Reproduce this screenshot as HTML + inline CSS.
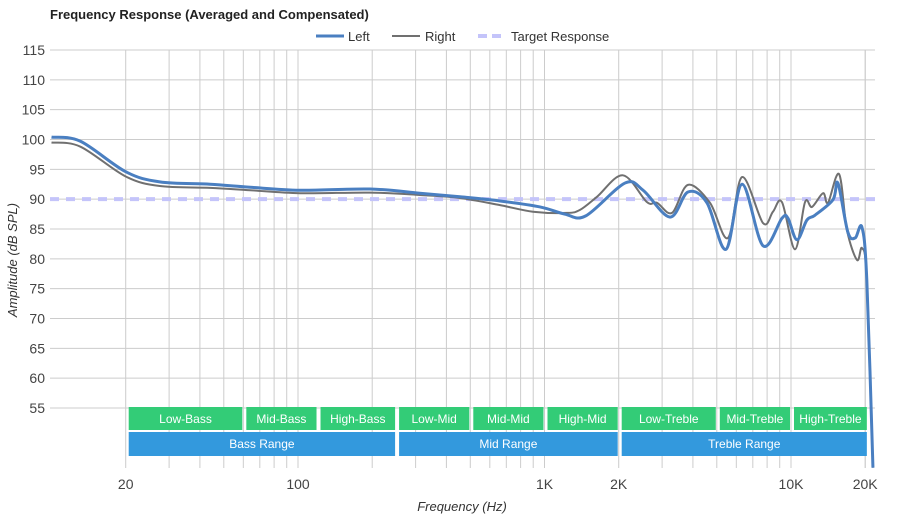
<!DOCTYPE html>
<html><head><meta charset="utf-8"><style>
body{margin:0;background:#fff;font-family:"Liberation Sans",sans-serif;}
svg text{font-family:"Liberation Sans",sans-serif;}
</style></head><body>
<svg id="chart" width="900" height="520" viewBox="0 0 900 520">
<defs><clipPath id="plotclip"><rect x="50" y="50" width="825" height="418"/></clipPath></defs>
<text x="50" y="19" font-size="13" font-weight="bold" fill="#222">Frequency Response (Averaged and Compensated)</text>
<g>
 <g><line x1="316" y1="36" x2="344" y2="36" stroke="#4a7fc1" stroke-width="3"/><text x="348" y="41" font-size="13" fill="#333">Left</text></g>
 <g><line x1="392" y1="36" x2="420" y2="36" stroke="#707070" stroke-width="2"/><text x="425" y="41" font-size="13" fill="#333">Right</text></g>
 <g><line x1="478" y1="36" x2="506" y2="36" stroke="#c4c4fa" stroke-width="4" stroke-dasharray="9,5"/><text x="511" y="41" font-size="13" fill="#333">Target Response</text></g>
</g>
<g id="grid"></g>
<g id="bands"></g>
<g id="series" clip-path="url(#plotclip)"></g>
<text transform="translate(17,260) rotate(-90)" text-anchor="middle" font-size="13" font-style="italic" fill="#333">Amplitude (dB SPL)</text>
<text x="462" y="511" text-anchor="middle" font-size="13" font-style="italic" fill="#333">Frequency (Hz)</text>
</svg>
<script>
const yTicks=[115,110,105,100,95,90,85,80,75,70,65,60,55];
const xTickVals=[20,100,1000,2000,10000,20000];
const xTickLabels=["20","100","1K","2K","10K","20K"];
const target=90;
const leftFreq=[10,13.1,20,27.5,44,64,102,196,312,454,660,959,1210,1470,2120,2510,3230,3820,4560,5450,6330,7700,9190,9720,10570,11600,12500,14800,15500,17000,18200,19400,20300,21500];
const leftDb=[100.4,99.7,94.6,92.9,92.5,92,91.5,91.7,91,90.4,89.7,88.7,87.5,87.2,92.7,91.5,87,91.2,89.4,81.6,92.5,82.2,86.8,86.8,83.2,86.5,87.3,89.9,92.7,84.5,83.5,85.3,76.5,45];
const rightFreq=[10,13.1,20,27.5,44,64,102,196,312,454,660,898,1234,1393,1633,2080,2605,2860,3290,3820,4690,5550,6330,7700,8450,9190,10380,11400,12170,13490,14130,15670,16870,18530,19400,20300,21500];
const rightDb=[99.5,98.8,93.8,92.2,91.9,91.5,91,91.1,90.7,90.2,89,87.9,87.7,88.2,90.4,94,89.5,89.4,87.7,92.4,89.4,83.5,93.7,86,87.9,89.5,81.6,89.5,88.7,91,89.4,94.2,84.8,79.8,81.8,76.5,45];
const bandNames=["Low-Bass","Mid-Bass","High-Bass","Low-Mid","Mid-Mid","High-Mid","Low-Treble","Mid-Treble","High-Treble"];
const bandEdges=[20,60,120,250,500,1000,2000,5000,10000,20500];
const rangeNames=["Bass Range","Mid Range","Treble Range"];
const rangeEdges=[20,250,2000,20500];

const X0=50,X1=875,YT=50,YB=468;
const x=f=>298+(Math.log10(f)-2)*246.5;
const y=d=>50+(115-d)*5.967;
const NS="http://www.w3.org/2000/svg";
function mk(tag,attrs,parent){const e=document.createElementNS(NS,tag);for(const k in attrs)e.setAttribute(k,attrs[k]);parent.appendChild(e);return e;}
const grid=document.getElementById('grid');
yTicks.forEach(t=>{
 const l=mk('line',{x1:X0,x2:X1,y1:y(t),y2:y(t),stroke:'#cccccc','stroke-width':1},grid);
 
 
 const tx=mk('text',{x:45,y:y(t)+5,'text-anchor':'end','font-size':14,fill:'#444'},grid);
 tx.textContent=t;
 
 
});
for(let dec=10;dec<=10000;dec*=10){for(let m=1;m<10;m++){const f=dec*m;if(f<20||f>20000)continue;
 const l=mk('line',{x1:x(f),x2:x(f),y1:YT,y2:YB,stroke:'#cccccc','stroke-width':1},grid);
 
 }}
{const l=mk('line',{x1:x(20000),x2:x(20000),y1:YT,y2:YB,stroke:'#cccccc'},grid);
 
 }
xTickVals.forEach((f,i)=>{
 const tx=mk('text',{x:x(f),y:489,'text-anchor':'middle','font-size':14,fill:'#444'},grid);
 tx.textContent=xTickLabels[i];
 
 
});
const bands=document.getElementById('bands');
bandNames.forEach((n,i)=>{
 const a=x(bandEdges[i])+3,b=x(bandEdges[i+1])-1;
 const g=mk('g',{},bands);
 
 
 mk('rect',{x:a,y:407,width:b-a,height:23,fill:'#33cc77'},g);
 const t=mk('text',{x:(a+b)/2,y:423,'text-anchor':'middle','font-size':12,fill:'#fff'},g);t.textContent=n;
});
rangeNames.forEach((n,i)=>{
 const a=x(rangeEdges[i])+3,b=x(rangeEdges[i+1])-1;
 const g=mk('g',{},bands);
 
 
 mk('rect',{x:a,y:432,width:b-a,height:24,fill:'#3399dd'},g);
 const t=mk('text',{x:(a+b)/2,y:448,'text-anchor':'middle','font-size':12,fill:'#fff'},g);t.textContent=n;
});
function pathFor(fs,ds){
 const p=fs.map((f,i)=>[x(f),y(ds[i])]);
 let d='M'+p[0][0]+','+p[0][1];
 for(let i=0;i<p.length-1;i++){
  const p0=p[Math.max(0,i-1)],p1=p[i],p2=p[i+1],p3=p[Math.min(p.length-1,i+2)];
  const c1=[p1[0]+(p2[0]-p0[0])/6,p1[1]+(p2[1]-p0[1])/6];
  const c2=[p2[0]-(p3[0]-p1[0])/6,p2[1]-(p3[1]-p1[1])/6];
  d+=` C${c1[0]},${c1[1]} ${c2[0]},${c2[1]} ${p2[0]},${p2[1]}`;
 }
 return d;
}
const series=document.getElementById('series');
const tl=mk('line',{x1:X0,x2:X1,y1:y(target),y2:y(target),stroke:'#c4c4fa','stroke-width':4,'stroke-dasharray':'9,7'},series);


const rp=mk('path',{d:pathFor(rightFreq,rightDb),fill:'none',stroke:'#707070','stroke-width':2},series);


const lp=mk('path',{d:pathFor(leftFreq,leftDb),fill:'none',stroke:'#4a7fc1','stroke-width':3},series);


</script>
</body></html>
